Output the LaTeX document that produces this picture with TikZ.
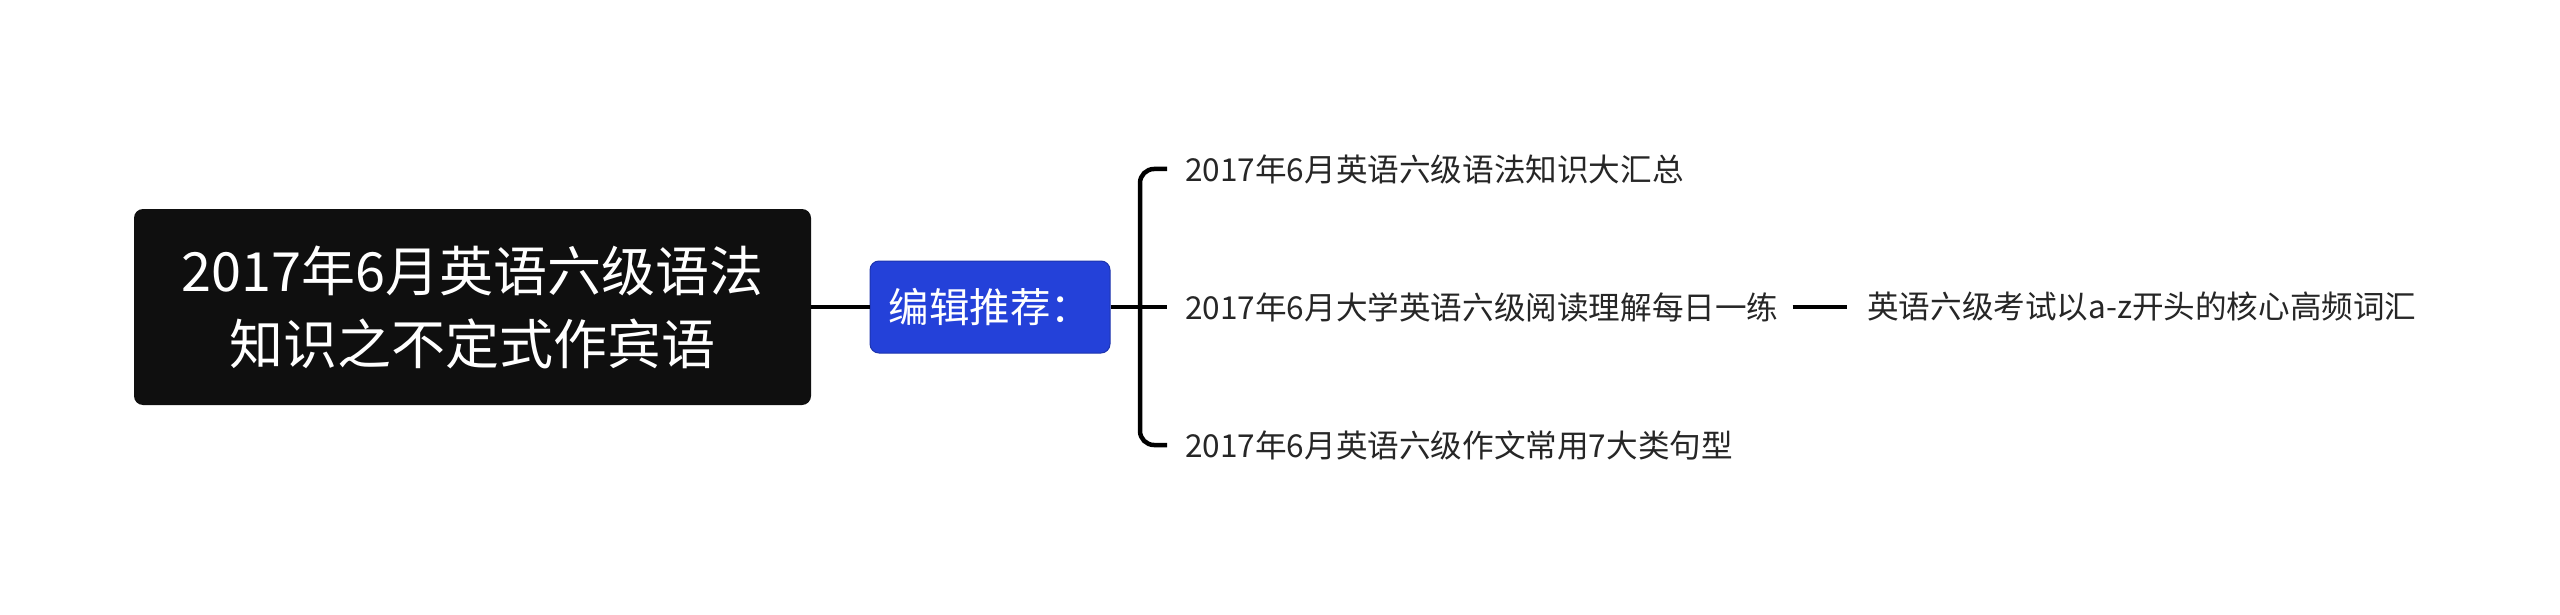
\documentclass[tikz,border=0pt]{standalone}
\usepackage{fontspec}
\setmainfont{Noto Sans CJK SC}
\definecolor{rootfill}{HTML}{0F0F0F}
\definecolor{bluefill}{HTML}{2441D9}
\definecolor{txt}{HTML}{262626}
\tikzset{
  rootbox/.style={draw=none,fill=rootfill,rounded corners=9pt,text=white,align=center,
    minimum width=677pt,minimum height=196pt,inner sep=0pt,
    font=\fontsize{54}{73}\selectfont},
  bluebox/.style={draw=bluefill!80!black,line width=1pt,fill=bluefill,rounded corners=9pt,text=white,
    minimum width=240pt,minimum height=92pt,inner sep=0pt,
    font=\fontsize{40.5}{44}\selectfont},
  leaf/.style={anchor=west,inner sep=0pt,text=txt,font=\fontsize{31.6}{36}\selectfont},
  conn/.style={line width=4.5pt,draw=black}
}
\begin{document}
\begin{tikzpicture}[x=1pt,y=-1pt]
\useasboundingbox (0,0) rectangle (2560,615);
\node[rootbox] (root) at (472.5,307) {2017年6月英语六级语法\\知识之不定式作宾语};
\node[bluebox] (blue) at (990,307) {编辑推荐：};
\node[leaf] (c1) at (1185,169) {2017年6月英语六级语法知识大汇总};
\node[leaf] (c2) at (1185,307) {2017年6月大学英语六级阅读理解每日一练};
\node[leaf] (c3) at (1185,445) {2017年6月英语六级作文常用7大类句型};
\node[leaf] (c4) at (1867,307) {英语六级考试以a-z开头的核心高频词汇};
\coordinate (bx) at (1140,307);
\draw[conn] (root.east) -- (blue.west);
\draw[conn] (blue.east) -- (bx);
\draw[conn,rounded corners=14pt] ([xshift=-18pt]c1.west) -| (bx) |- ([xshift=-18pt]c3.west);
\draw[conn] (bx) -- ([xshift=-18pt]c2.west);
\draw[conn] ([xshift=14pt]c2.east) -- ([xshift=-20pt]c4.west);
\end{tikzpicture}
\end{document}
